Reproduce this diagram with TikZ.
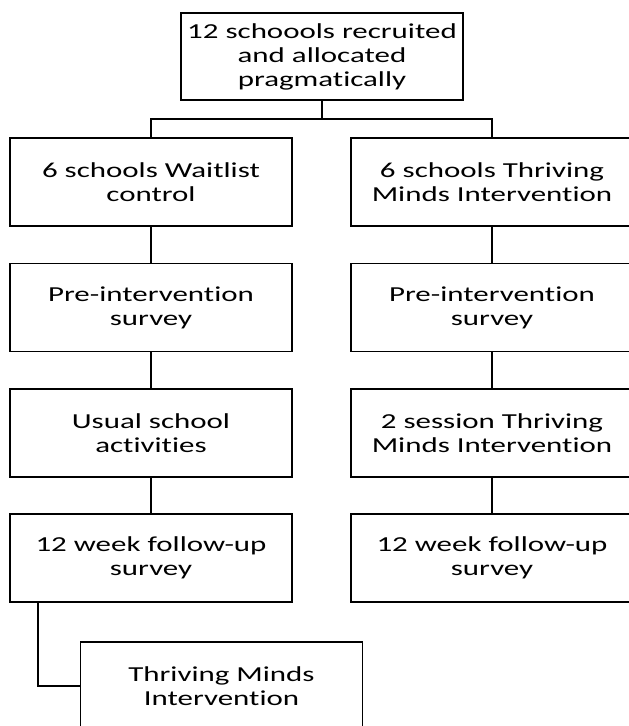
\documentclass[tikz,border=0pt]{standalone}
\usepackage{fontspec}
\setmainfont[FakeStretch=1.45,Ligatures=NoCommon,RawFeature={-liga;-clig}]{Carlito}
\begin{document}
\begin{tikzpicture}[x=0.75pt,y=-0.75pt,
  box/.style={draw=black,line width=1.4pt,fill=white,minimum width=211.5pt,minimum height=66pt,
    inner sep=0pt,outer sep=0pt,align=center,font=\fontsize{16}{18}\selectfont},
  link/.style={draw=black,line width=1.6pt}]
\useasboundingbox (0,0) rectangle (629,726);
\clip (0,0) rectangle (629,726);
\fill[white] (0,0) rectangle (629,726);
\node[box,minimum height=65pt] (top) at (322,56.5) {12 schoools recruited\\and allocated\\pragmatically};
\node[box] (l1) at (151,182) {6 schools Waitlist\\control};
\node[box] (r1) at (492,182) {6 schools Thriving\\Minds Intervention};
\node[box] (l2) at (151,307.5) {Pre-intervention\\survey};
\node[box] (r2) at (492,307.5) {Pre-intervention\\survey};
\node[box] (l3) at (151,433) {Usual school\\activities};
\node[box] (r3) at (492,433) {2 session Thriving\\Minds Intervention};
\node[box] (l4) at (151,558) {12 week follow-up\\survey};
\node[box] (r4) at (492,558) {12 week follow-up\\survey};
\node[box] (tm) at (221.5,686) {Thriving Minds\\Intervention};
\coordinate (j) at (322,119);
\coordinate (b) at (38,603);
\draw[link] (top.south) -- (j);
\draw[link] (l1.north) |- (j) -| (r1.north);
\draw[link] (l1.south) -- (l2.north);
\draw[link] (l2.south) -- (l3.north);
\draw[link] (l3.south) -- (l4.north);
\draw[link] (r1.south) -- (r2.north);
\draw[link] (r2.south) -- (r3.north);
\draw[link] (r3.south) -- (r4.north);
\draw[link] (b) |- (tm.west);
\end{tikzpicture}
\end{document}
